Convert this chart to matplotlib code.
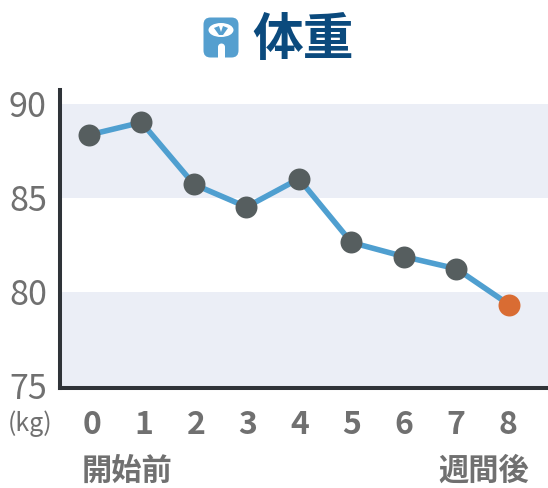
import matplotlib
matplotlib.use('Agg')
import matplotlib.pyplot as plt
from matplotlib.patches import Ellipse, FancyBboxPatch, Rectangle, Circle, Polygon
from matplotlib.transforms import ScaledTranslation

plt.rcParams['font.family'] = ['Noto Sans CJK JP', 'DejaVu Sans']

weeks = [0, 1, 2, 3, 4, 5, 6, 7, 8]
weight = [88.35, 89.02, 85.72, 84.52, 86.02, 82.63, 81.88, 81.23, 79.33]
y_ticks = [75, 80, 85, 90]
bands = [(75, 80), (85, 90)]

W, H = 548, 488
fig = plt.figure(figsize=(W / 100, H / 100), dpi=100)

# axes placed in pixels of the reference
left, right, top, bottom = 60, 548, 90, 388
ax = fig.add_axes([left / W, 1 - bottom / H, (right - left) / W, (bottom - top) / H])
ax.set_xlim(-0.552, 8.743)
ax.set_ylim(74.89, 90.74)

for lo, hi in bands:
    ax.axhspan(lo, hi, color='#ebeef6', lw=0, zorder=0)

ax.plot(weeks, weight, color='#4f9fd0', lw=4.0, zorder=2, solid_joinstyle='miter')
ax.scatter(weeks[:-1], weight[:-1], s=250, color='#565e5f', lw=0, zorder=3)
ax.scatter(weeks[-1:], weight[-1:], s=250, color='#d96c33', lw=0, zorder=3)

for s in ['top', 'right']:
    ax.spines[s].set_visible(False)
for s in ['left', 'bottom']:
    ax.spines[s].set_linewidth(2.9)
    ax.spines[s].set_color('#2f3338')

ax.set_xticks(weeks)
ax.set_xticklabels([str(w) for w in weeks], fontsize=23, fontweight='bold', color='#707070')
ax.set_yticks(y_ticks)
ax.set_yticklabels([str(v) for v in y_ticks], fontsize=24.5, color='#707070')
ax.tick_params(axis='x', length=0, pad=15)
ax.tick_params(axis='y', length=0, pad=9.5)
# labels in the reference sit on a slightly tighter spacing than the points
for i, lab in enumerate(ax.get_xticklabels()):
    shift = ScaledTranslation((3 - i * 0.5) / 100, 0, fig.dpi_scale_trans)
    lab.set_transform(lab.get_transform() + shift)


def px(x, y):
    return x / W, 1 - y / H


fig.text(*px(30, 424), '(kg)', fontsize=18, color='#707070', ha='center', va='center')
fig.text(*px(126.5, 471), '開始前', fontsize=21.8, fontweight='bold', color='#707070', ha='center', va='center')
fig.text(*px(484, 471), '週間後', fontsize=21.8, fontweight='bold', color='#707070', ha='center', va='center')
fig.text(*px(303, 40), '体重', fontsize=36.5, fontweight='bold', color='#0b4a7d', ha='center', va='center')

# scale icon, drawn in pixel coords on a full-figure overlay
ov = fig.add_axes([0, 0, 1, 1], facecolor='none')
ov.set_xlim(0, W)
ov.set_ylim(H, 0)
ov.axis('off')
blue = '#559fcf'
ov.add_patch(FancyBboxPatch((203.5, 17.5), 35, 40, boxstyle='round,pad=0,rounding_size=7', fc=blue, ec='none'))
ov.add_patch(Rectangle((218, 47), 7, 12, fc='white', ec='none'))
ov.add_patch(Circle((221.5, 47), 3.5, fc='white', ec='none'))
ov.add_patch(Ellipse((221, 30), 25, 14, fc='white', ec='none'))
# dial fan
ov.add_patch(Polygon([(214, 28), (219, 26), (221, 32), (223, 26), (228, 28), (223, 35), (219, 35)], fc=blue, ec='none'))

fig.savefig('out.png', dpi=100)
